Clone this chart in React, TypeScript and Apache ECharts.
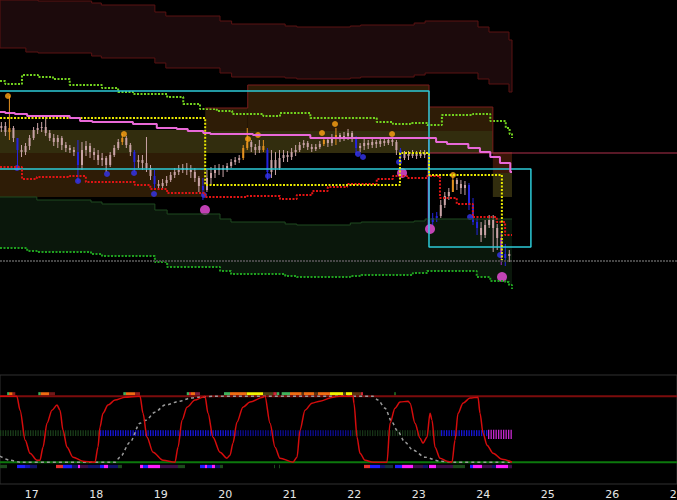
import React, { useEffect, useRef } from "react";
import * as echarts from "echarts";

// ---------- axes ----------
const X_MIN = 16.509;
const X_MAX = 27.005;
const DAY_LABELS = [17, 18, 19, 20, 21, 22, 23, 24, 25, 26, 27];

// ---------- price bars (90-minute bars, price panel units, axis inverted) ----------
const BAR_T0 = 16.53;
const BAR_STEP = 0.0625;
// [open, close, low, high]
const BARS: number[][] = [
  [128,126,122,132],[126,132,122,136],[132,128,96,140],[128,138,126,142],[138,150,138,170],
  [150,152,145,157],[152,146,143,155],[146,138,135,150],[138,130,127,140],[130,128,123,134],
  [128,127,122,132],[127,133,115,136],[133,138,130,141],[138,142,134,146],[142,138,135,148],
  [138,145,136,150],[145,148,142,152],[148,150,145,153],[150,152,147,156],[152,165,140,182],
  [165,150,142,170],[150,146,141,156],[146,152,143,158],[152,155,148,160],[155,160,150,165],
  [160,158,153,166],[158,165,156,172],[165,155,152,167],[155,148,145,157],[148,142,139,150],
  [142,138,134,145],[138,145,136,148],[145,152,143,156],[152,162,150,172],[162,160,155,168],
  [160,163,155,170],[163,168,137,172],[168,176,165,180],[176,184,170,190],[184,186,180,190],
  [186,183,179,189],[183,180,176,186],[180,175,172,182],[175,172,168,178],[172,170,165,175],
  [170,168,164,173],[168,170,163,175],[170,172,165,178],[172,178,168,182],[178,186,176,192],
  [186,190,178,200],[190,178,170,192],[178,173,167,185],[173,170,165,178],[170,168,164,175],
  [168,170,165,177],[170,166,163,172],[166,162,159,168],[162,160,157,165],[160,158,155,163],
  [158,148,145,160],[148,142,128,150],[142,147,140,152],[147,150,144,155],[150,146,140,153],
  [146,150,140,152],[150,172,148,180],[172,160,150,178],[160,168,152,175],[168,158,150,170],
  [158,155,150,162],[155,157,151,162],[157,152,148,160],[152,150,145,156],[150,145,142,152],
  [145,143,140,148],[143,147,141,150],[147,149,144,152],[149,147,144,151],[147,144,141,149],
  [144,140,138,146],[140,143,137,147],[143,138,134,146],[138,135,128,145],[135,138,133,142],
  [138,136,132,141],[136,133,129,140],[133,138,131,142],[138,148,136,155],[148,146,143,152],
  [146,143,139,150],[143,145,140,149],[145,142,139,148],[142,144,140,148],[144,141,139,147],
  [141,143,139,146],[143,140,138,145],[140,142,137,146],[142,150,140,155],[150,158,148,163],
  [158,154,151,160],[154,156,151,160],[156,153,150,158],[153,156,151,159],[156,153,150,158],
  [153,155,150,158],[155,228,140,232],[222,218,213,225],[218,216,212,222],[216,205,200,218],
  [205,196,192,208],[196,192,188,200],[192,180,175,192],[180,184,178,190],[184,188,180,194],
  [188,185,181,195],[185,205,183,210],[205,222,198,225],[222,228,218,235],[228,235,222,242],
  [235,225,220,238],[225,220,215,228],[220,228,215,252],[228,238,224,250],[238,258,232,265],
  [258,254,244,266],[254,256,250,262],
];
const BAR_ORANGE = [2, 30, 60, 61, 65, 80, 83, 112];
const BAR_BLUE = [4, 19, 33, 38, 50, 66, 88, 99, 107, 108, 116, 117, 118, 125];
const BAR_PURPLE = [106, 124];

// ---------- signal dots [day, price] ----------
const ORANGE_DOTS = [[16.633,96],[18.431,134],[20.354,139],[20.509,135],[21.501,133],[21.703,124],[22.587,134],[23.532,175]];
const BLUE_DOTS = [[16.773,168],[17.718,181],[18.168,174],[18.587,173],[18.897,194],[19.672,195],[20.664,176],[22.059,154],[22.137,157],[22.695,162],[23.796,217],[24.261,255]];
const PINK_DOTS = [[19.687,210],[22.742,173],[23.176,229],[24.292,277]];

// ---------- bands & levels (step-after) ----------
const RED_BAND_TOP = [[16.509,0],[17.1,1],[17.93,3],[18.08,5],[18.91,12],[19.08,16],[19.92,21],[20.1,24],[20.93,26],[21.11,27],[21.94,26],[22.1,25],[22.93,23],[23.1,21],[23.92,27],[24.09,32],[24.4,40],[24.447,40]];
const RED_BAND_BOTTOM = [[16.509,48],[16.91,52],[17.1,53],[17.93,56],[18.08,58],[18.91,63],[19.08,68],[19.92,73],[20.1,77],[20.93,78],[21.11,79],[21.94,78],[22.1,77],[22.93,75],[23.1,73],[23.92,79],[24.09,84],[24.4,92],[24.447,92]];
const GREEN_BAND_TOP = [[16.509,197],[17.08,200],[17.92,202],[18.09,204],[18.91,210],[19.1,214],[19.92,219],[20.09,222],[20.93,224],[21.11,225],[21.94,223],[22.11,222],[22.93,221],[23.1,219],[24.447,219]];
const GREEN_BAND_BOTTOM = [[16.509,248],[16.93,251],[17.08,252],[17.92,254],[18.09,256],[18.91,262],[19.1,267],[19.92,271],[20.09,274],[20.93,276],[21.11,277],[21.94,276],[22.11,275],[22.91,273],[23.13,271],[23.9,277],[24.11,281],[24.34,282],[24.4,285],[24.447,289]];
const GREEN_UPPER = [[16.509,81],[16.59,84],[16.85,75],[17.1,77],[17.33,79],[17.59,85],[18.09,88],[18.34,92],[18.57,94],[19.1,97],[19.35,104],[19.61,109],[19.87,111],[20.11,114],[20.59,116],[20.85,113],[21.32,118],[22.35,122],[22.6,124],[22.87,123],[23.13,125],[23.36,115],[23.84,114],[24.11,121],[24.35,128],[24.41,134],[24.447,138]];
const RED_DOTTED = [[16.509,167],[16.85,179],[17.08,177],[17.59,176],[17.84,182],[18.6,185],[18.84,189],[19.1,193],[19.69,197],[20.34,196],[20.85,199],[21.11,195],[21.35,191],[21.59,187],[21.89,184],[22.35,179],[22.6,176],[22.82,178],[23.13,176],[23.33,198],[23.59,204],[23.84,217],[24.21,222],[24.34,235],[24.447,235]];
const PINK_LINE = [[16.509,112],[16.59,113],[16.74,114],[16.93,116],[17.59,118],[17.75,121],[17.94,122],[18.57,124],[18.94,128],[19.25,129],[19.42,131],[19.66,133],[19.77,134],[20.43,135],[21.32,138],[23.27,142],[23.44,144],[23.77,148],[23.95,152],[24.11,157],[24.26,163],[24.42,172],[24.447,172]];
const YELLOW_LINE = [[16.509,118],[19.69,118],[19.69,185],[22.71,185],[22.71,153],[23.16,153],[23.16,175],[24.29,175],[24.29,260]];
const CYAN_A = [[16.509,91],[23.16,91],[23.16,169]];
const CYAN_B = [[16.509,169],[24.74,169],[24.74,247],[23.16,247],[23.16,169]];
const BOX_EDGE_B = [[19.69,108],[20.35,108],[20.35,85],[23.16,85],[23.16,131]];
const BOX_EDGE_C = [[23.16,107],[24.15,107],[24.15,153]];
const CRIMSON_LEVEL = [[23.16,153],[27.005,153]];
const LAST_PRICE = [[16.509,261],[27.005,261]];
// [start, end, top, bottom, kind]
const BOXES: (number | string)[][] = [
  [16.509,19.69,130,153,"olive"],[16.509,19.69,153,197,"brown"],
  [19.69,20.35,108,131,"brown"],[20.35,23.16,85,131,"brown"],[19.69,23.16,131,153,"olive"],
  [23.16,24.15,107,131,"brown"],[23.16,24.15,131,153,"olive"],
  [24.15,24.447,152,173,"rust"],[24.15,24.447,173,197,"olive"],
];

// ---------- oscillator panel ----------
const OSC_RED = [[16.509,100],[16.77,100],[16.82,78.8],[16.9,33.3],[16.974,13.6],[17.083,3],[17.129,3],[17.176,22.7],[17.238,59.1],[17.315,78.8],[17.393,86.4],[17.439,78.8],[17.486,48.5],[17.548,22.7],[17.641,7.6],[17.796,1.5],[17.982,0],[18.028,22.7],[18.059,53],[18.106,74.2],[18.183,86.4],[18.292,94],[18.447,98.5],[18.649,100],[18.68,100],[18.726,74.2],[18.788,37.9],[18.881,15.2],[19.036,3],[19.222,0],[19.269,22.7],[19.331,63.6],[19.408,83.3],[19.532,94],[19.656,98.5],[19.687,100],[19.734,74.2],[19.811,37.9],[19.92,15.2],[20.028,6.1],[20.075,10.6],[20.121,28.8],[20.183,60.6],[20.276,83.3],[20.385,91],[20.587,98.5],[20.617,100],[20.695,59.1],[20.773,22.7],[20.85,6.1],[21.052,0],[21.114,7.6],[21.16,48.5],[21.238,78.8],[21.346,89.4],[21.47,92.4],[21.672,98.5],[21.78,100],[21.982,100],[21.997,89.4],[22.044,37.9],[22.09,13.6],[22.168,3],[22.292,0],[22.509,0],[22.556,59.1],[22.633,81.8],[22.711,91],[22.835,92.4],[22.866,89.4],[22.943,59.1],[23.021,36.4],[23.067,28.8],[23.129,37.9],[23.176,74.2],[23.207,63.6],[23.253,22.7],[23.331,6.1],[23.439,1.5],[23.517,0],[23.563,33.3],[23.61,74.2],[23.687,89.4],[23.796,97],[23.92,98.5],[23.951,74.2],[23.998,43.9],[24.059,25.8],[24.153,13.6],[24.292,4.5],[24.447,0]];
const OSC_GRAY = [[16.509,9.1],[16.665,3],[16.82,0],[18.292,0],[18.37,7.6],[18.525,30.3],[18.68,59.1],[18.773,63.6],[18.912,75.8],[19.067,86.4],[19.3,92.4],[19.455,97],[19.61,98.5],[19.843,100],[22.292,100],[22.37,94],[22.478,81.8],[22.587,60.6],[22.664,48.5],[22.788,30.3],[22.912,18.2],[23.098,7.6],[23.331,1.5],[23.563,0],[24.447,0]];
const OSC_TOP_LEVEL = [[16.509,100],[27.005,100]];
const OSC_BOTTOM_LEVEL = [[16.509,0],[27.005,0]];

const G = "#41b05a", O = "#f06c12", DR = "#8c1c1c", R = "#d02838", Y = "#f2f200", OLV = "#4c4214", BR = "#5c3210", PR = "#7a1e3e", DG = "#1c5a1c";
const STRIP_TOP: (number | string)[][] = [
  [16.62,16.65,G],[16.65,16.706,O],[16.706,16.746,DR],
  [17.103,17.14,G],[17.14,17.273,O],[17.273,17.362,"#701818"],
  [18.421,18.462,G],[18.462,18.602,O],[18.602,18.68,DR],
  [19.404,19.439,G],[19.439,19.47,R],[19.47,19.532,O],[19.532,19.61,PR],
  [19.982,20.075,G],[20.075,20.334,O],[20.334,20.591,Y],[20.591,20.746,OLV],[20.746,20.799,R],[20.799,20.839,G],
  [20.876,21.005,G],[21.005,21.187,O],[21.187,21.222,BR],[21.222,21.377,O],[21.377,21.439,BR],[21.439,21.625,O],
  [21.625,21.827,Y],[21.827,21.873,OLV],[21.873,21.966,Y],[21.966,22.106,BR],[22.106,22.137,R],[22.618,22.649,DG],
];
const BB = "#1f1fff", B = "#1414b8", DB = "#12126a", M = "#ff1cff", DP = "#3c0f48", DGR = "#1c4a1c", DG2 = "#14303a", RR = "#e83030";
const STRIP_BOTTOM: (number | string)[][] = [
  [16.509,16.618,DGR],[16.773,16.897,BB],[16.897,16.974,B],[16.974,17.083,DB],
  [17.377,17.486,RR],[17.486,17.625,BB],[17.625,17.718,DB],[17.718,17.749,M],[17.749,17.873,DP],[17.873,18.059,DB],
  [18.059,18.121,BB],[18.121,18.183,M],[18.183,18.338,DB],[18.338,18.4,DGR],
  [18.68,18.726,M],[18.726,18.804,BB],[18.804,18.99,M],[18.99,19.269,DP],[19.269,19.377,DGR],
  [19.61,19.687,BB],[19.687,19.718,M],[19.718,19.796,BB],[19.796,19.843,M],[19.843,19.92,DB],[19.92,19.966,DGR],
  [20.757,20.773,DGR],[20.835,20.85,DGR],
  [22.152,22.245,RR],[22.245,22.4,BB],[22.4,22.478,DB],[22.478,22.602,DG2],[22.633,22.742,BB],[22.742,22.912,M],
  [22.912,23.067,DP],[23.067,23.145,DB],[23.16,23.269,M],[23.269,23.532,DP],[23.532,23.718,DGR],[23.796,23.842,BB],
  [23.842,23.982,M],[23.982,24.137,DP],[24.137,24.199,DB],[24.199,24.385,M],[24.385,24.447,DP],
];
// [start, end, colour, tall]
const STRIP_MID: (number | string)[][] = [
  [16.509,18.059,"#1a3c1a",0],[18.059,20.152,"#1616d8",0],[20.152,21.966,"#0c0c8c",0],
  [21.966,23.346,"#173217",0],[23.346,24.075,"#1616d8",0],[24.075,24.447,"#c828d0",1],
];

const CANDLE = "#c9a3a6";
const BOX_COLORS: Record<string, string> = { olive: "#322d0e", brown: "#2e1c06", rust: "#3a1608" };

function stepPts(steps: number[][]) {
  const pts: number[][] = [];
  for (let k = 0; k < steps.length; k++) {
    pts.push(steps[k]);
    if (k + 1 < steps.length) pts.push([steps[k + 1][0], steps[k][1]]);
  }
  return pts;
}

function bandSeries(top: number[][], bottom: number[][], fill: string, stroke: string | null) {
  return {
    type: "custom", xAxisIndex: 0, yAxisIndex: 0, silent: true,
    data: [[top[0][0], top[0][1]]],
    renderItem: (_p: any, api: any) => {
      const a = stepPts(top).map((p) => api.coord(p));
      const b = stepPts(bottom).map((p) => api.coord(p)).reverse();
      return { type: "polygon", shape: { points: a.concat(b) }, style: { fill, stroke, lineWidth: 1 } };
    },
  };
}

function lineSeries(data: number[][], color: string, width: number, type: any, extra: any = {}) {
  return {
    type: "line", xAxisIndex: 0, yAxisIndex: 0, data, symbol: "none", showSymbol: false, silent: true,
    lineStyle: { color, width, type }, ...extra,
  };
}

function stripSeries(rows: (number | string)[][], v0: number, v1: number) {
  return {
    type: "custom", xAxisIndex: 1, yAxisIndex: 1, silent: true,
    data: rows.map((r) => [r[0], r[1]]),
    renderItem: (params: any, api: any) => {
      const r = rows[params.dataIndex];
      const a = api.coord([api.value(0), v1]);
      const b = api.coord([api.value(1), v0]);
      return { type: "rect", shape: { x: a[0], y: a[1], width: Math.max(1, b[0] - a[0]), height: b[1] - a[1] }, style: { fill: r[2] as string } };
    },
  };
}

export default function App() {
  const ref = useRef<HTMLDivElement>(null);
  useEffect(() => {
    document.body.style.margin = "0";
    document.body.style.background = "#000";
    const chart = echarts.init(ref.current!, undefined, { renderer: "svg" });

    const candleData = BARS.map((b, i) => [BAR_T0 + i * BAR_STEP, b[0], b[1], b[2], b[3]]);
    const barColor = (i: number) =>
      BAR_ORANGE.includes(i) ? "#e39120" : BAR_BLUE.includes(i) ? "#2424e0" : BAR_PURPLE.includes(i) ? "#a030c8" : CANDLE;

    const option: any = {
      animation: false,
      backgroundColor: "#000",
      grid: [
        { left: 0, right: 0, top: 0, height: 375, outerBoundsMode: "none", containLabel: false },
        {
          left: 0, right: 0, top: 375, height: 109, show: true, borderColor: "#303030", borderWidth: 1,
          backgroundColor: "transparent", outerBoundsMode: "none", containLabel: false,
        },
      ],
      xAxis: [
        { type: "value", gridIndex: 0, min: X_MIN, max: X_MAX, show: false },
        {
          type: "value", gridIndex: 1, min: X_MIN, max: X_MAX,
          axisLine: { show: false }, axisTick: { show: false }, splitLine: { show: false },
          axisLabel: {
            customValues: DAY_LABELS, formatter: (v: number) => String(Math.round(v)),
            color: "#e6e6e6", fontSize: 11, fontFamily: "DejaVu Sans", margin: 5, hideOverlap: false,
          },
        },
      ],
      yAxis: [
        { type: "value", gridIndex: 0, min: 0, max: 375, inverse: true, show: false },
        { type: "value", gridIndex: 1, min: -33, max: 132, show: false },
      ],
      series: [
        bandSeries(RED_BAND_TOP, RED_BAND_BOTTOM, "#1c0a0c", "#5a1212"),
        bandSeries(GREEN_BAND_TOP, GREEN_BAND_BOTTOM, "#0a170b", null),
        {
          type: "custom", xAxisIndex: 0, yAxisIndex: 0, silent: true,
          data: BOXES.map((b) => [b[0], b[1], b[2], b[3]]),
          renderItem: (params: any, api: any) => {
            const kind = BOXES[params.dataIndex][4] as string;
            const a = api.coord([api.value(0), api.value(2)]);
            const c = api.coord([api.value(1), api.value(3)]);
            return { type: "rect", shape: { x: a[0], y: a[1], width: c[0] - a[0], height: c[1] - a[1] }, style: { fill: BOX_COLORS[kind] } };
          },
        },
        lineSeries(GREEN_BAND_TOP, "#1f4a20", 1, "solid", { step: "end" }),
        lineSeries(GREEN_BAND_BOTTOM, "#1fa01f", 2, [2, 1.5], { step: "end" }),
        lineSeries(GREEN_UPPER, "#72d21e", 2, [2, 1.5], { step: "end" }),
        lineSeries(LAST_PRICE, "#474747", 2, [2, 1]),
        lineSeries(BOX_EDGE_B, "#7a1c1c", 1, "solid"),
        lineSeries(BOX_EDGE_C, "#7a1c1c", 1, "solid"),
        lineSeries(CRIMSON_LEVEL, "#b0304c", 1, "solid"),
        lineSeries(CYAN_A, "#2ccad8", 1.5, "solid"),
        lineSeries(CYAN_B, "#2ccad8", 1.5, "solid"),
        lineSeries(RED_DOTTED, "#e01414", 2, [2, 1.5], { step: "end" }),
        lineSeries(YELLOW_LINE, "#e8e800", 2, [2, 1.5]),
        lineSeries(PINK_LINE, "#e868d8", 2, "solid", { step: "end" }),
        {
          type: "custom", xAxisIndex: 0, yAxisIndex: 0, silent: true,
          data: candleData,
          encode: { x: 0, y: [1, 2, 3, 4] },
          renderItem: (params: any, api: any) => {
            const t = api.value(0);
            const pO = api.coord([t, api.value(1)]);
            const pC = api.coord([t, api.value(2)]);
            const pL = api.coord([t, api.value(3)]);
            const pH = api.coord([t, api.value(4)]);
            const color = barColor(params.dataIndex);
            return {
              type: "group",
              children: [
                { type: "line", shape: { x1: pL[0], y1: pL[1], x2: pH[0], y2: pH[1] }, style: { stroke: color, lineWidth: 1 } },
                { type: "rect", shape: { x: pO[0] - 1, y: Math.min(pO[1], pC[1]), width: 2, height: Math.max(1, Math.abs(pC[1] - pO[1])) }, style: { fill: color } },
              ],
            };
          },
        },
        { type: "scatter", xAxisIndex: 0, yAxisIndex: 0, data: ORANGE_DOTS, symbolSize: 6, itemStyle: { color: "#ffa414" }, silent: true },
        { type: "scatter", xAxisIndex: 0, yAxisIndex: 0, data: BLUE_DOTS, symbolSize: 6, itemStyle: { color: "#3434f0" }, silent: true },
        { type: "scatter", xAxisIndex: 0, yAxisIndex: 0, data: PINK_DOTS, symbolSize: 10, itemStyle: { color: "#f050e0" }, silent: true },

        // oscillator panel
        stripSeries(STRIP_TOP, 101, 106),
        stripSeries(STRIP_BOTTOM, -9, -4),
        {
          type: "custom", xAxisIndex: 1, yAxisIndex: 1, silent: true,
          data: STRIP_MID.map((r) => [r[0], r[1]]),
          renderItem: (params: any, api: any) => {
            const r = STRIP_MID[params.dataIndex];
            const tall = r[3] === 1;
            const a = api.coord([api.value(0), tall ? 49 : 48.5]);
            const b = api.coord([api.value(1), tall ? 35 : 39.5]);
            const children: any[] = [];
            for (let x = a[0]; x < b[0]; x += 2.5) {
              children.push({ type: "rect", shape: { x, y: a[1], width: 1.3, height: b[1] - a[1] }, style: { fill: r[2] as string } });
            }
            return { type: "group", children };
          },
        },
        { ...lineSeries(OSC_TOP_LEVEL, "#7c0c0c", 2, "solid"), xAxisIndex: 1, yAxisIndex: 1 },
        { ...lineSeries(OSC_BOTTOM_LEVEL, "#0c780c", 2, "solid"), xAxisIndex: 1, yAxisIndex: 1 },
        { ...lineSeries(OSC_GRAY, "#9a9a9a", 1.5, [3, 3], { smooth: 0.3, smoothMonotone: "x" }), xAxisIndex: 1, yAxisIndex: 1 },
        { ...lineSeries(OSC_RED, "#d40c0c", 1.5, "solid", { smooth: 0.3, smoothMonotone: "x" }), xAxisIndex: 1, yAxisIndex: 1 },
      ],
    };
    chart.setOption(option);
    return () => chart.dispose();
  }, []);
  return (
    <div
      ref={ref}
      style={{ position: "fixed", left: 0, top: 0, width: 677, height: 500, background: "#000" }}
    />
  );
}
